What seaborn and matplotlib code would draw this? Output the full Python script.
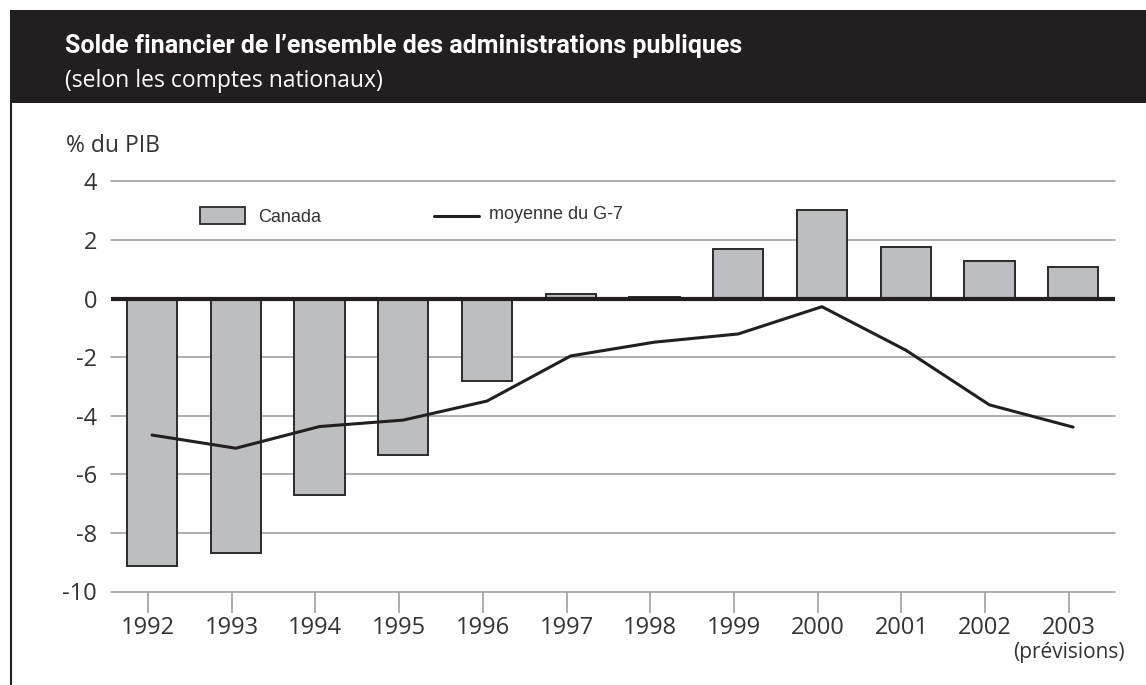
import matplotlib
matplotlib.use("Agg")
import matplotlib.pyplot as plt
import seaborn as sns
import numpy as np
import pandas as pd
from matplotlib.patches import Rectangle
from matplotlib.lines import Line2D
from matplotlib.transforms import blended_transform_factory

years = ["1992", "1993", "1994", "1995", "1996", "1997", "1998", "1999", "2000", "2001", "2002", "2003"]
canada = [-9.12, -8.70, -6.70, -5.33, -2.81, 0.15, 0.05, 1.70, 3.02, 1.75, 1.29, 1.06]
g7 = [-4.66, -5.11, -4.37, -4.15, -3.50, -1.96, -1.49, -1.21, -0.28, -1.76, -3.63, -4.39]
yticks = [4, 2, 0, -2, -4, -6, -8, -10]
forecast_note = "(prévisions)"

title = "Solde financier de l\u2019ensemble des administrations publiques"
subtitle = "(selon les comptes nationaux)"
ylabel = "% du PIB"
leg_bar = "Canada"
leg_line = "moyenne du G-7"

sns.set_theme(style="white")
plt.rcParams['font.family'] = ['Open Sans', 'DejaVu Sans']

W, H = 1146, 685
fig = plt.figure(figsize=(W / 100, H / 100), dpi=100)

# header band
fig.patches.append(Rectangle((10 / W, 1 - 103 / H), 1 - 10 / W, 93 / H, transform=fig.transFigure,
                             facecolor="#231f20", edgecolor="none", zorder=0))
fig.add_artist(Line2D([11 / W, 11 / W], [0, 1 - 103 / H], transform=fig.transFigure,
                      color="#231f20", lw=1.5))
fig.text(65 / W, 1 - 46 / H, title, color="white", fontsize=18, fontweight="bold",
         va="center", ha="left", family=['Roboto', 'DejaVu Sans'])
fig.text(65 / W, 1 - 81 / H, subtitle, color="white", fontsize=16.5, va="center", ha="left",
         family=['Open Sans', 'DejaVu Sans'])

x0, x1 = 111, 1115
ytop, ybot = 181.3, 591.5
ax = fig.add_axes([x0 / W, 1 - ybot / H, (x1 - x0) / W, (ybot - ytop) / H])

df = pd.DataFrame({"year": years, "canada": canada, "g7": g7, "pos": np.arange(len(years))})
sns.barplot(data=df, x="year", y="canada", ax=ax, color="#bdbec0", width=0.6,
            edgecolor="#2b2b2b", linewidth=1.4, saturation=1, zorder=2)
sns.lineplot(data=df, x="pos", y="g7", ax=ax, color="#231f20", linewidth=2.2, zorder=4)

off = 0.05
ax.set_xticks(np.arange(len(years)) - off)
ax.set_xlim(-0.49, 11.50)
ax.set_ylim(-10, 4)
ax.set_yticks(yticks)
ax.set_yticklabels([str(v) for v in yticks])
ax.set_xticklabels(years)
for s in ax.spines.values():
    s.set_visible(False)
for v in yticks:
    if v == 0:
        ax.axhline(0, color="#231f20", lw=3, zorder=3)
    else:
        ax.axhline(v, color="#a0a0a0", lw=1.2, zorder=1, clip_on=False)
ax.tick_params(axis="y", length=0, pad=10, labelsize=17, labelcolor="#333333")
ax.tick_params(axis="x", length=15, width=1.2, color="#a0a0a0", direction="out", pad=3,
               labelsize=17, labelcolor="#333333", bottom=True)
ax.set_xlabel("")
ax.set_ylabel("")
ax.grid(False)

trans = blended_transform_factory(ax.transData, ax.transAxes)
ax.text(len(years) - 1 - off, -0.149, forecast_note, transform=trans, ha="center", va="center",
        fontsize=15, color="#333333")

fig.text(66 / W, 1 - 146 / H, ylabel, fontsize=16.5, color="#333333", va="center", ha="left")

# legend
fig.patches.append(Rectangle((200 / W, 1 - 224 / H), 45 / W, 17 / H, transform=fig.transFigure,
                             facecolor="#bdbec0", edgecolor="#2b2b2b", lw=1.3))
fig.text(258 / W, 1 - 217 / H, leg_bar, fontsize=13, color="#333333", va="center", ha="left",
         family=['Liberation Sans', 'DejaVu Sans'])
fig.add_artist(Line2D([434 / W, 479 / W], [1 - 216 / H, 1 - 216 / H], transform=fig.transFigure,
                      color="#231f20", lw=2.2))
fig.text(489 / W, 1 - 215 / H, leg_line, fontsize=13, color="#333333", va="center", ha="left",
         family=['Liberation Sans', 'DejaVu Sans'])

fig.savefig("out.png", dpi=100, facecolor="white")
